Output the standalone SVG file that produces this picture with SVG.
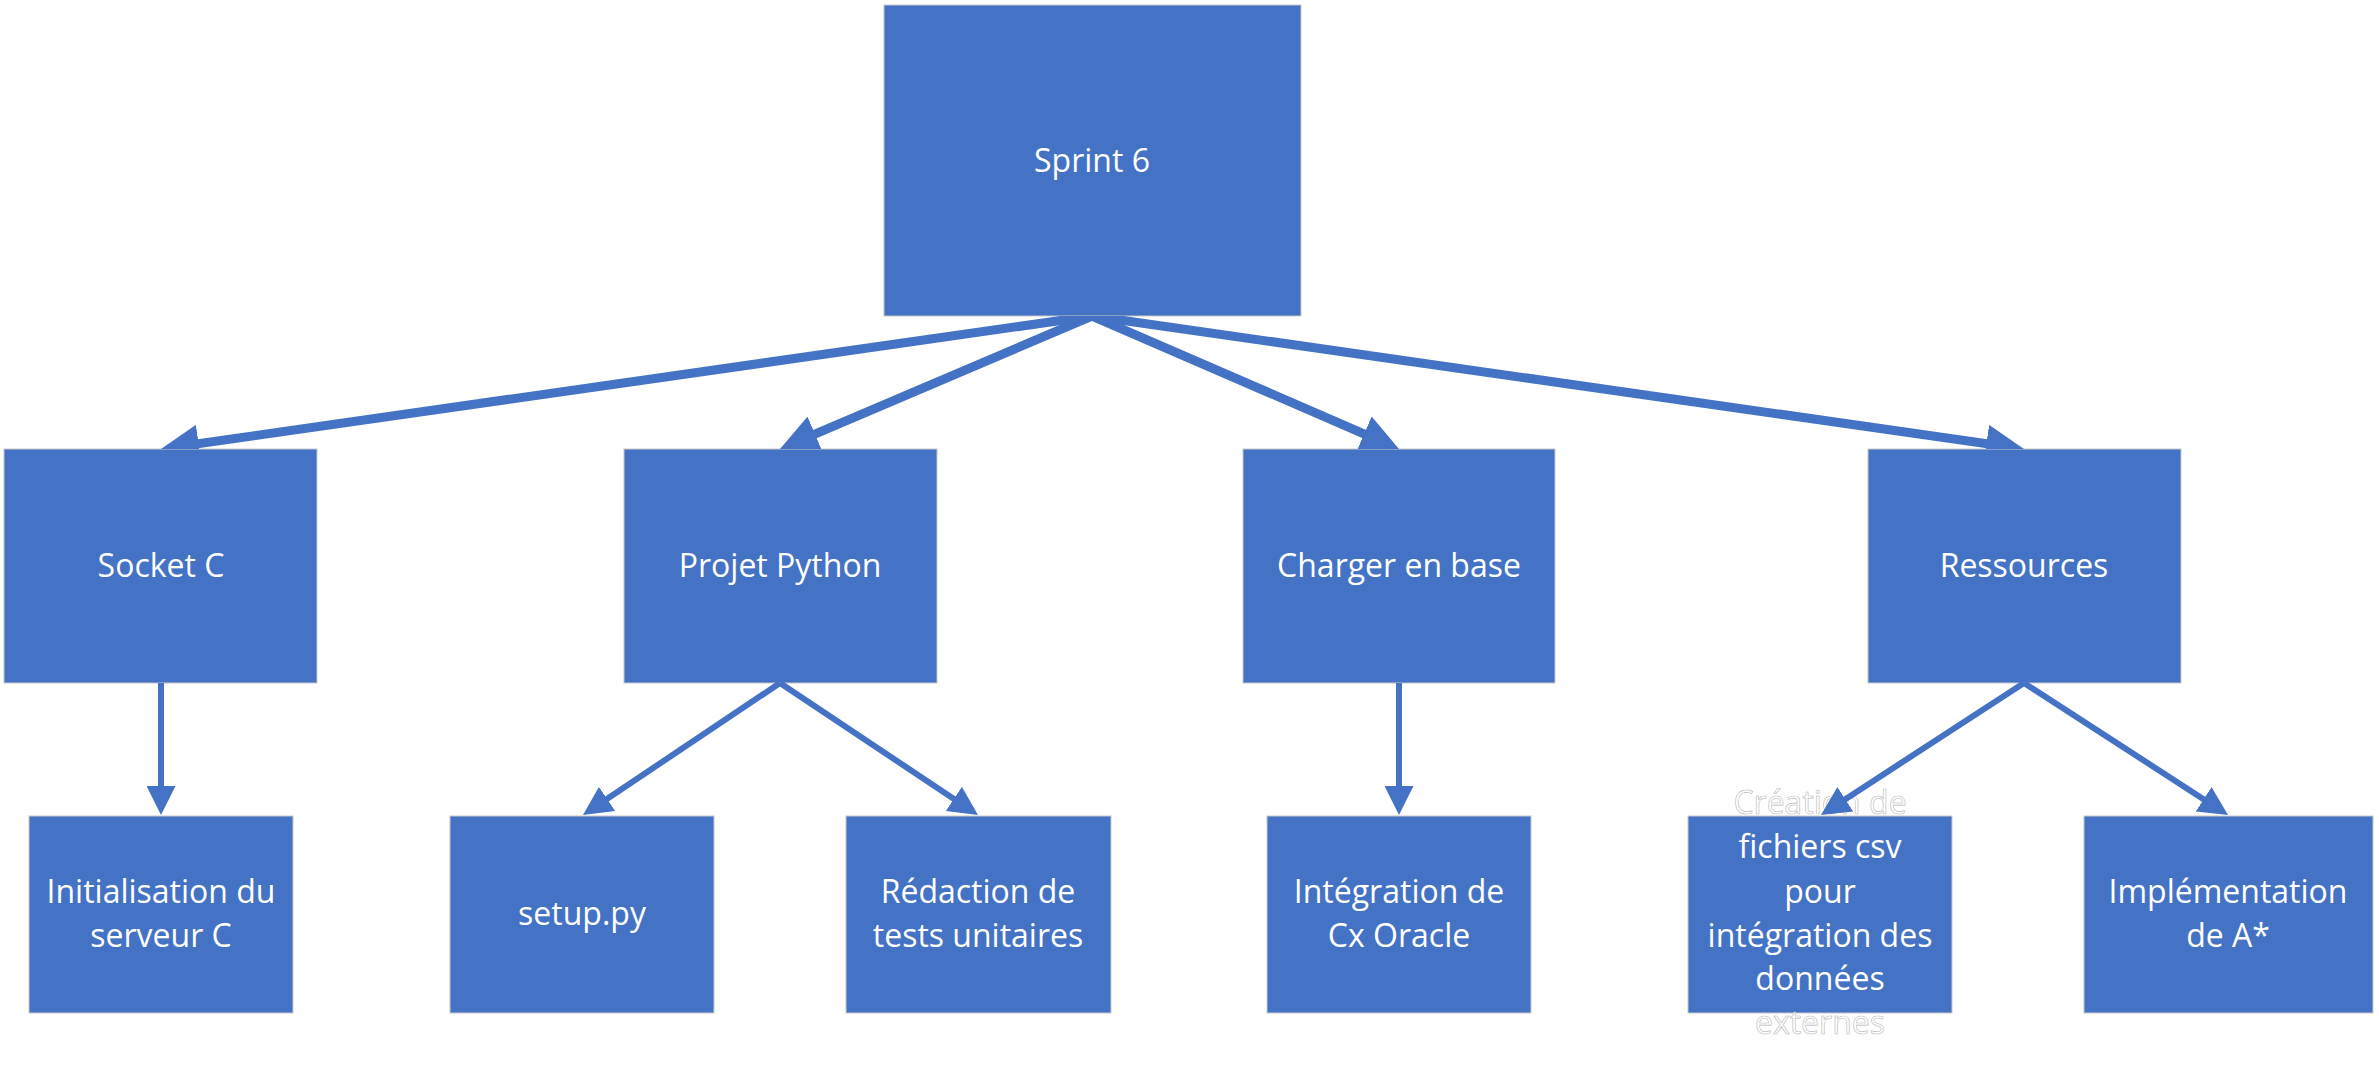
<svg xmlns="http://www.w3.org/2000/svg" width="2379" height="1067" viewBox="0 0 2379 1067">
  <style>
    .box { fill: #4472C4; stroke: #c8c8c8; stroke-width: 1; }
    .t { font-family: "Open Sans", "Liberation Sans", sans-serif; font-size: 32px; fill: #ffffff; text-anchor: middle; }
    .o { stroke: #b8b8b8; stroke-width: 0.6; }
    .c1 { stroke: #4472C4; stroke-width: 9; fill: none; marker-end: url(#ahL); }
    .c2 { stroke: #4472C4; stroke-width: 6; fill: none; marker-end: url(#ahS); }
  </style>
  <defs>
    <marker id="ahL" markerUnits="userSpaceOnUse" markerWidth="38" markerHeight="38" viewBox="0 0 38 38" refX="18" refY="19" orient="auto">
      <path d="M0,0 L38,19 L0,38 z" fill="#4472C4"/>
    </marker>
    <marker id="ahS" markerUnits="userSpaceOnUse" markerWidth="29" markerHeight="29" viewBox="0 0 29 29" refX="15" refY="14.5" orient="auto">
      <path d="M0,0 L29,14.5 L0,29 z" fill="#4472C4"/>
    </marker>
    <clipPath id="band">
      <rect x="0" y="316" width="2379" height="133"/>
    </clipPath>
  </defs>

  <rect width="2379" height="1067" fill="#ffffff"/>

  <g id="sprint6">
    <rect class="box" x="884" y="5" width="417" height="311"/>
    <text class="t" x="1092" y="172">Sprint 6</text>
  </g>
  <g id="socketC">
    <rect class="box" x="4" y="449" width="313" height="234"/>
    <text class="t" x="161" y="577">Socket C</text>
  </g>
  <g id="projetPython">
    <rect class="box" x="624" y="449" width="313" height="234"/>
    <text class="t" x="780" y="577">Projet Python</text>
  </g>
  <g id="chargerBase">
    <rect class="box" x="1243" y="449" width="312" height="234"/>
    <text class="t" x="1399" y="577">Charger en base</text>
  </g>
  <g id="ressources">
    <rect class="box" x="1868" y="449" width="313" height="234"/>
    <text class="t" x="2024" y="577">Ressources</text>
  </g>
  <g id="initServeur">
    <rect class="box" x="29" y="816" width="264" height="197"/>
    <text class="t" x="161" y="903">Initialisation du</text>
    <text class="t" x="161" y="947">serveur C</text>
  </g>
  <g id="setupPy">
    <rect class="box" x="450" y="816" width="264" height="197"/>
    <text class="t" x="582" y="925">setup.py</text>
  </g>
  <g id="redactionTests">
    <rect class="box" x="846" y="816" width="265" height="197"/>
    <text class="t" x="978" y="903">Rédaction de</text>
    <text class="t" x="978" y="947">tests unitaires</text>
  </g>
  <g id="integrationCx">
    <rect class="box" x="1267" y="816" width="264" height="197"/>
    <text class="t" x="1399" y="903">Intégration de</text>
    <text class="t" x="1399" y="947">Cx Oracle</text>
  </g>
  <g id="creationCsv">
    <rect class="box" x="1688" y="816" width="264" height="197"/>
    <text class="t o" x="1820" y="814">Création de</text>
    <text class="t" x="1820" y="858">fichiers csv</text>
    <text class="t" x="1820" y="903">pour</text>
    <text class="t" x="1820" y="947">intégration des</text>
    <text class="t" x="1820" y="990">données</text>
    <text class="t o" x="1820" y="1034">externes</text>
  </g>
  <g id="implementationA">
    <rect class="box" x="2084" y="816" width="289" height="197"/>
    <text class="t" x="2228" y="903">Implémentation</text>
    <text class="t" x="2228" y="947">de A*</text>
  </g>

  <g id="connectors">
    <g clip-path="url(#band)">
      <path class="c1" d="M1092,316 L180.8,446.17"/>
      <path class="c1" d="M1092,316 L798.4,441.16"/>
      <path class="c1" d="M1092,316 L1380.65,441.05"/>
      <path class="c1" d="M1092,316 L2004.2,446.17"/>
    </g>
    <path class="c2" d="M161,683 L161,801"/>
    <path class="c2" d="M780,683 L594.6,807.2"/>
    <path class="c2" d="M780,683 L966.35,807.23"/>
    <path class="c2" d="M1399,683 L1399,801"/>
    <path class="c2" d="M2024,683 L1832.7,807.4"/>
    <path class="c2" d="M2024,683 L2216.25,807.4"/>
  </g>
</svg>
